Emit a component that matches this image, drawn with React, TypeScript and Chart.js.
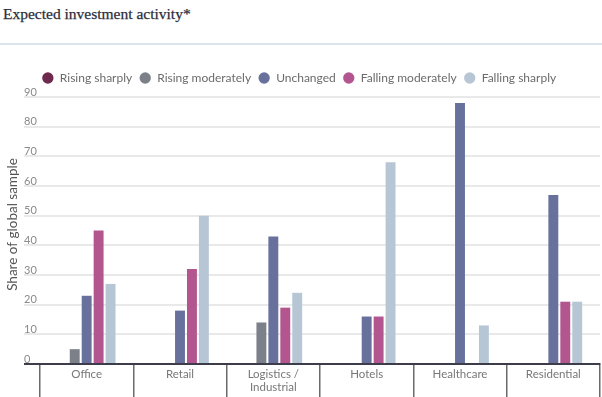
import React, { useEffect, useRef } from "react";
import { Chart, registerables } from "chart.js";

Chart.register(...registerables);

const categories: (string | string[])[] = [
  "Office",
  "Retail",
  ["Logistics /", "Industrial"],
  "Hotels",
  "Healthcare",
  "Residential",
];

const risingSharply = [0, 0, 0, 0, 0, 0];
const risingModerately = [5, 0, 14, 0, 0, 0];
const unchanged = [23, 18, 43, 16, 88, 57];
const fallingModerately = [45, 32, 19, 16, 0, 21];
const fallingSharply = [27, 50, 24, 68, 13, 21];

const seriesNames = [
  "Rising sharply",
  "Rising moderately",
  "Unchanged",
  "Falling moderately",
  "Falling sharply",
];
const seriesColors = ["#6e2a4e", "#7b8089", "#67719c", "#b3558f", "#b7c6d5"];

const yTitle = "Share of global sample";
const titleText = "Expected investment activity*";

const SANS = "Lato, 'Noto Sans', sans-serif";

export default function App() {
  const ref = useRef<HTMLCanvasElement>(null);

  useEffect(() => {
    if (!ref.current) return;
    const series = [
      risingSharply,
      risingModerately,
      unchanged,
      fallingModerately,
      fallingSharply,
    ];
    const yTitlePlugin = {
      id: "yTitlePlugin",
      afterDraw(chart: any) {
        const { ctx, chartArea } = chart;
        ctx.save();
        ctx.translate(13, (chartArea.top + chartArea.bottom) / 2 - 6);
        ctx.rotate(-Math.PI / 2);
        ctx.font = `13.5px ${SANS}`;
        ctx.fillStyle = "#555555";
        ctx.textAlign = "center";
        ctx.textBaseline = "middle";
        ctx.fillText(yTitle, 0, 0);
        ctx.restore();
      },
    };
    const legendMargin = {
      id: "legendMargin",
      beforeInit(chart: any) {
        const lg = chart.legend;
        if (!lg) return;
        const orig = lg.fit;
        lg.fit = function () {
          orig.call(this);
          this.height += 3;
        };
      },
      afterLayout(chart: any) {
        const lg = chart.legend;
        if (!lg) return;
        lg.left -= 13;
        lg.right -= 13;
      },
    };
    const chart = new Chart(ref.current, {
      type: "bar",
      data: {
        labels: categories,
        datasets: series.map((d, i) => ({
          label: seriesNames[i],
          data: d,
          backgroundColor: seriesColors[i],
          borderWidth: 0,
          barPercentage: 0.83,
          categoryPercentage: 0.64,
        })),
      },
      options: {
        animation: false,
        responsive: false,
        maintainAspectRatio: false,
        layout: { padding: { left: 24, right: 2, top: 65, bottom: 0 } },
        plugins: {
          legend: {
            position: "top",
            labels: {
              usePointStyle: true,
              pointStyle: "circle",
              boxWidth: 16,
              boxHeight: 8,
              padding: 7,
              color: "#6b6b6b",
              font: { family: SANS, size: 12 },
            },
          },
          tooltip: { enabled: false },
          title: { display: false },
        },
        scales: {
          x: {
            offset: true,
            afterFit(scale: any) {
              scale.height = 33;
            },
            grid: {
              offset: true,
              drawOnChartArea: false,
              drawTicks: true,
              tickLength: 34,
              color: "#6a6a6a",
              lineWidth: 1.5,
            },
            border: { display: true, color: "#3c3c4a", width: 2 },
            ticks: {
              padding: -31,
              color: "#777777",
              font: { family: SANS, size: 11.5, lineHeight: 1.2 },
              maxRotation: 0,
              autoSkip: false,
            },
          },
          y: {
            min: 0,
            max: 90,
            afterFit(scale: any) {
              scale.width = 16;
            },
            border: { display: false },
            grid: {
              drawTicks: true,
              tickLength: 16,
              color: (ctx: any) =>
                ctx.tick && ctx.tick.value === 0 ? "#3c3c4a" : "#e9e9e9",
              lineWidth: 2,
            },
            ticks: {
              stepSize: 10,
              crossAlign: "far",
              labelOffset: -5,
              padding: 0,
              color: "#8a8a8a",
              font: { family: SANS, size: 11 },
            },
          },
        },
      },
      plugins: [yTitlePlugin, legendMargin],
    } as any);
    return () => chart.destroy();
  }, []);

  return (
    <div style={{ position: "absolute", left: 0, top: 0, width: 602, height: 397, background: "#fff" }}>
      <div
        style={{
          position: "absolute",
          left: 3,
          top: 5,
          fontFamily: "'Liberation Serif', serif",
          fontSize: 15.5,
          color: "#2b2d3c",
          whiteSpace: "nowrap",
          WebkitTextStroke: "0.25px #2b2d3c",
        }}
      >
        {titleText}
      </div>
      <div
        style={{
          position: "absolute",
          left: 0,
          top: 43,
          width: 602,
          height: 2,
          background: "#dce4ec",
        }}
      />
      <canvas ref={ref} width={602} height={397} style={{ position: "absolute", left: 0, top: 0 }} />
    </div>
  );
}
